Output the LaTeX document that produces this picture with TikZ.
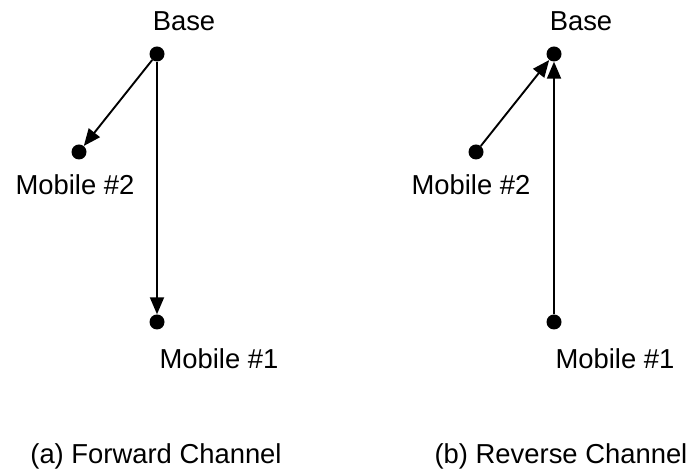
\documentclass[tikz,border=0pt]{standalone}
\usepackage{fontspec}
\setmainfont{Liberation Sans}
\usetikzlibrary{arrows.meta}

\begin{document}
\begin{tikzpicture}[x=1bp,y=1bp]
  \tikzstyle{dot}=[circle,fill,inner sep=0pt,minimum size=15bp]
  \tikzstyle{lbl}=[inner sep=0pt,anchor=base,font=\fontsize{27.5}{32}\selectfont]
  \tikzstyle{link}=[draw,line width=1.9bp,-{Triangle[length=17bp,width=14bp]}]
  \useasboundingbox (0,0) rectangle (694,476);
  % (a) forward channel
  \node [dot] (baseA) at (157,422) {};
  \node [dot] (mtwoA) at (79,324) {};
  \node [dot] (moneA) at (157,154) {};
  \node [lbl] (baseAtxt) at (184,445) {Base};
  \node [lbl] (mtwoAtxt) at (75,281) {Mobile \#2};
  \node [lbl] (moneAtxt) at (219,107) {Mobile \#1};
  \draw [link] (baseA) -- (mtwoA);
  \draw [link] (baseA) -- (moneA);
  \node [lbl] (capA) at (156,12) {(a) Forward Channel};
  % (b) reverse channel
  \node [dot] (baseB) at (554,422) {};
  \node [dot] (mtwoB) at (476,324) {};
  \node [dot] (moneB) at (554,154) {};
  \node [lbl] (baseBtxt) at (581,445) {Base};
  \node [lbl] (mtwoBtxt) at (471,281) {Mobile \#2};
  \node [lbl] (moneBtxt) at (615,107) {Mobile \#1};
  \draw [link] (mtwoB) -- (baseB);
  \draw [link] (moneB) -- (baseB);
  \node [lbl] (capB) at (561,12) {(b) Reverse Channel};
\end{tikzpicture}
\end{document}
